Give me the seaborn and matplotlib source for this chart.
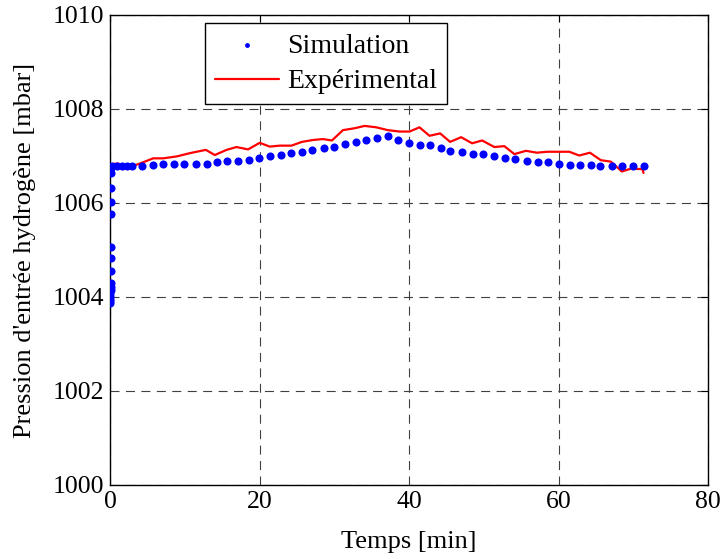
import matplotlib
matplotlib.use("Agg")
import matplotlib.pyplot as plt
import seaborn as sns
import pandas as pd

# Simulated inlet pressure [mbar] vs time [min]
sim_t = [0.02, 0.03, 0.04, 0.05, 0.06, 0.07, 0.08, 0.09, 0.10, 0.11, 0.12,
         0.13, 0.14, 0.15, 0.16, 0.18,
         0.23, 0.89, 1.56, 2.23, 2.90, 4.23, 5.70, 7.12, 8.55, 9.88,
         11.45, 12.91, 14.25, 15.67, 17.14, 18.56, 19.94, 21.46, 22.84,
         24.27, 25.68, 27.08, 28.58, 29.96, 31.48, 32.85, 34.19, 35.70,
         37.20, 38.50, 39.97, 41.50, 42.83, 44.30, 45.54, 47.11, 48.61,
         49.95, 51.42, 52.89, 54.22, 55.73, 57.20, 58.54, 60.01, 61.53,
         62.86, 64.33, 65.58, 67.09, 68.55, 69.98, 71.45]
sim_p = [1003.88, 1003.91, 1003.96, 1004.02, 1004.08, 1004.15, 1004.22, 1004.30,
         1004.56, 1004.82, 1005.07, 1005.77, 1006.03, 1006.31, 1006.63, 1006.74,
         1006.79, 1006.79, 1006.79, 1006.79, 1006.79, 1006.79, 1006.81, 1006.82,
         1006.82, 1006.83, 1006.84, 1006.84, 1006.87, 1006.89, 1006.89, 1006.92,
         1006.95, 1006.99, 1007.02, 1007.06, 1007.09, 1007.13, 1007.16, 1007.20,
         1007.25, 1007.29, 1007.33, 1007.38, 1007.43, 1007.35, 1007.28, 1007.23,
         1007.23, 1007.16, 1007.11, 1007.08, 1007.05, 1007.04, 1006.99, 1006.95,
         1006.93, 1006.89, 1006.87, 1006.87, 1006.84, 1006.81, 1006.81, 1006.81,
         1006.79, 1006.79, 1006.79, 1006.79, 1006.79]

# Measured inlet pressure [mbar] vs time [min]
exp_t = [0.09, 0.44, 1.11, 1.87, 2.44, 3.11, 4.01, 5.78, 7.12, 8.91, 10.68,
         12.82, 14.02, 15.59, 16.92, 18.47, 20.03, 21.37, 22.70, 24.27, 25.68,
         27.15, 28.49, 29.69, 31.16, 32.72, 34.06, 35.62, 37.17, 38.73, 40.07,
         41.40, 42.74, 44.17, 45.50, 46.97, 48.44, 49.78, 51.42, 52.75, 54.09,
         55.65, 57.07, 58.54, 60.10, 61.44, 62.77, 64.20, 65.67, 67.00, 68.47,
         69.68, 71.23, 71.37]
exp_p = [1006.74, 1006.83, 1006.84, 1006.72, 1006.79, 1006.79, 1006.84, 1006.95,
         1006.95, 1006.99, 1007.06, 1007.13, 1007.02, 1007.13, 1007.19, 1007.14,
         1007.28, 1007.20, 1007.22, 1007.22, 1007.30, 1007.34, 1007.36, 1007.33,
         1007.55, 1007.59, 1007.64, 1007.61, 1007.55, 1007.52, 1007.52, 1007.61,
         1007.43, 1007.48, 1007.30, 1007.40, 1007.27, 1007.33, 1007.19, 1007.21,
         1007.04, 1007.11, 1007.07, 1007.09, 1007.09, 1007.09, 1007.01, 1007.07,
         1006.91, 1006.88, 1006.67, 1006.73, 1006.72, 1006.64]

x_ticks = [0, 20, 40, 60, 80]
y_ticks = [1000, 1002, 1004, 1006, 1008, 1010]

sim_df = pd.DataFrame({"t": sim_t, "p": sim_p})
exp_df = pd.DataFrame({"t": exp_t, "p": exp_p})

sns.set_theme(style="white")
plt.rcParams["font.family"] = ["Liberation Serif", "DejaVu Serif"]
plt.rcParams["text.color"] = "black"
plt.rcParams["axes.labelcolor"] = "black"

fig = plt.figure(figsize=(7.27, 5.59), dpi=100)
ax = fig.add_axes([0.1513, 0.1324, 0.8226, 0.8408])

sns.scatterplot(data=sim_df, x="t", y="p", ax=ax, color="#0000ff", s=34,
                linewidth=0, label="Simulation", zorder=3)
sns.lineplot(data=exp_df, x="t", y="p", ax=ax, color="#ff0000", linewidth=1.6,
             estimator=None, sort=False, label="Expérimental", zorder=2)

ax.set_xlim(0, 80)
ax.set_ylim(1000, 1010)
ax.set_xticks(x_ticks)
ax.set_yticks(y_ticks)
ax.set_xticklabels([str(v) for v in x_ticks])
ax.set_yticklabels([str(v) for v in y_ticks])

ax.grid(True, color="#404040", linestyle=(0, (8.1, 5.8)), linewidth=0.8)
ax.tick_params(direction="in", length=5, width=0.8, top=True, right=True,
               labelsize=18.5, colors="black", pad=4)
for sp in ax.spines.values():
    sp.set_color("black")
    sp.set_linewidth(1.0)

ax.set_xlabel("Temps [min]", fontsize=19, labelpad=13, color="black")
ax.set_ylabel("Pression d'entrée hydrogène [mbar]", fontsize=19, labelpad=12,
              color="black")

leg = ax.legend(loc="upper left", bbox_to_anchor=(0.159, 0.982), fontsize=20,
                frameon=True, fancybox=False, edgecolor="black", framealpha=1,
                borderpad=0.35, handlelength=2.3, handletextpad=0.3,
                labelspacing=0.37, markerscale=0.6, borderaxespad=0)
leg.get_frame().set_linewidth(1.0)
for txt in leg.get_texts():
    txt.set_color("black")

fig.savefig("out.png", dpi=100)
